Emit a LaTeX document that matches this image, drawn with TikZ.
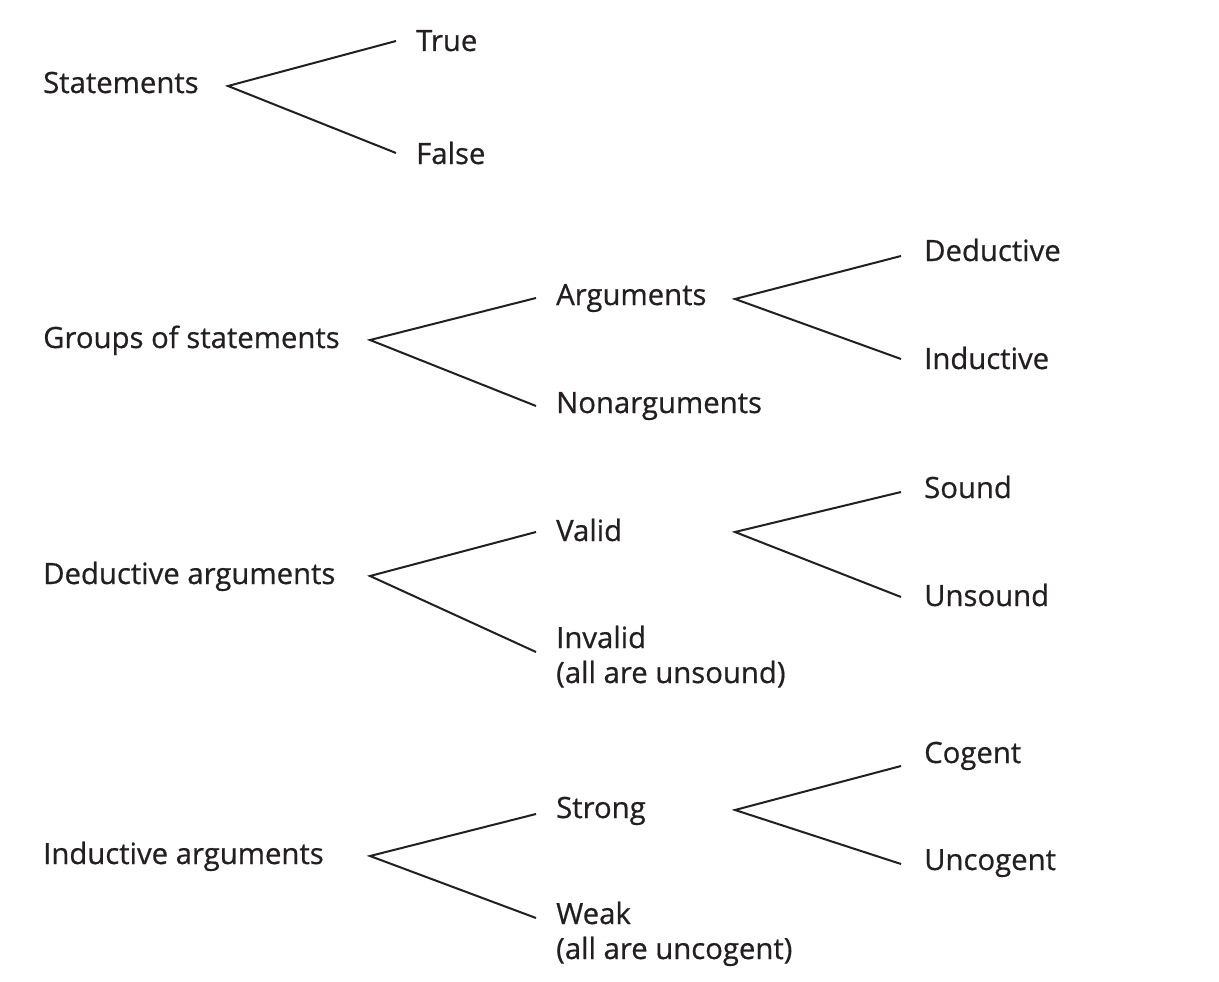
\documentclass[tikz,border=0pt]{standalone}
\usepackage{fontspec}
\setmainfont[FakeBold=0.6]{Open Sans}
\definecolor{ink}{HTML}{231F20}
\begin{document}
\begin{tikzpicture}[x=1pt,y=-1pt,
  lbl/.style={anchor=base west,inner sep=0pt,text=ink,font=\fontsize{29.3}{35}\selectfont,align=left},
  branch/.style={draw=ink,line width=2pt}]
\useasboundingbox[fill=white] (0,0) rectangle (1219,982);
% Row 1
\node[lbl] (st) at (43,93) {Statements};
\node[lbl] (tr) at (416,51) {True};
\node[lbl] (fa) at (416,164) {False};
\coordinate (v1) at (228,86);
\coordinate (t1) at (396,41);
\coordinate (f1) at (396,153);
\draw[branch] (t1) -- (v1) -- (f1);
% Row 2
\node[lbl] (gr) at (43,348) {Groups of statements};
\node[lbl] (ar) at (556,305) {Arguments};
\node[lbl] (na) at (556,413) {Nonarguments};
\node[lbl] (de) at (924,261) {Deductive};
\node[lbl] (in) at (924,369) {Inductive};
\coordinate (v2) at (370,340);
\coordinate (a2) at (536,298);
\coordinate (n2) at (536,406);
\draw[branch] (a2) -- (v2) -- (n2);
\coordinate (w2) at (735,299);
\coordinate (d2) at (901,256);
\coordinate (i2) at (901,359);
\draw[branch] (d2) -- (w2) -- (i2);
% Row 3
\node[lbl] (da) at (43,584) {Deductive arguments};
\node[lbl] (va) at (556,541) {Valid};
\node[lbl] (iv) at (556,683) {Invalid\\(all are unsound)};
\node[lbl] (so) at (924,498) {Sound};
\node[lbl] (un) at (924,606) {Unsound};
\coordinate (v3) at (370,576);
\coordinate (a3) at (536,532);
\coordinate (n3) at (536,652);
\draw[branch] (a3) -- (v3) -- (n3);
\coordinate (w3) at (735,532);
\coordinate (d3) at (901,492);
\coordinate (i3) at (901,597);
\draw[branch] (d3) -- (w3) -- (i3);
% Row 4
\node[lbl] (ia) at (43,864) {Inductive arguments};
\node[lbl] (sr) at (556,818) {Strong};
\node[lbl] (wk) at (556,959) {Weak\\(all are uncogent)};
\node[lbl] (co) at (924,763) {Cogent};
\node[lbl] (uc) at (924,870) {Uncogent};
\coordinate (v4) at (370,856);
\coordinate (a4) at (536,814);
\coordinate (n4) at (536,918);
\draw[branch] (a4) -- (v4) -- (n4);
\coordinate (w4) at (735,810);
\coordinate (d4) at (901,766);
\coordinate (i4) at (901,864);
\draw[branch] (d4) -- (w4) -- (i4);
\end{tikzpicture}
\end{document}
